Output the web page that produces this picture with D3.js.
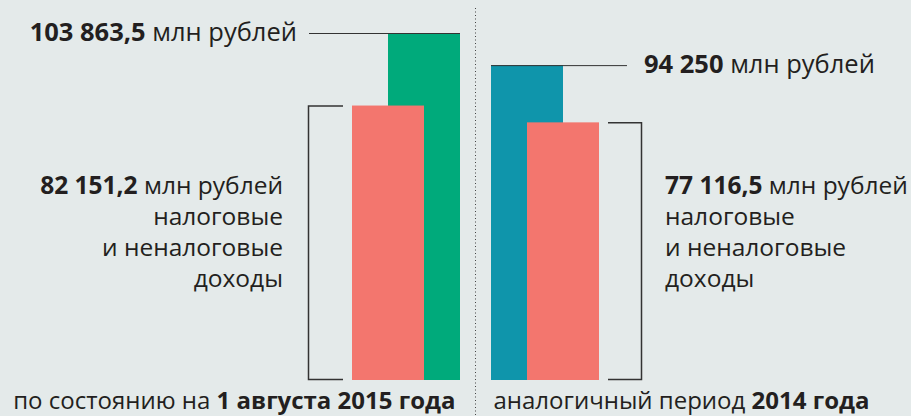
<!DOCTYPE html>
<html lang="ru">

<head>
  <meta charset="UTF-8">
  <title>Доходы</title>
  <script src="https://cdn.jsdelivr.net/npm/d3@7"></script>
  <style>
    body {
      margin: 0;
      background: #e4eaea;
    }

    text {
      font-family: "Open Sans", "Noto Sans", sans-serif;
      font-size: 24px;
      fill: #231f20;
    }

    .bold {
      font-weight: 700;
    }

    .top-label {
      font-size: 25.5px;
    }

    .tax-label {
      font-size: 24.5px;
    }
  </style>
</head>

<body>
  <div id="app"></div>

  <script>
    var periods = ["2015", "2014"];
    var totalIncome = [103863.5, 94250];
    var taxIncome = [82151.2, 77116.5];
    var totalLabels = ["103 863,5", "94 250"];
    var taxLabels = ["82 151,2", "77 116,5"];
    var unitLabel = "млн рублей";
    var taxLines = ["налоговые", "и неналоговые", "доходы"];
    var periodPrefix = ["по состоянию на ", "аналогичный период "];
    var periodBold = ["1 августа 2015 года", "2014 года"];

    var width = 911;
    var height = 416;
    var baseY = 380;

    var totalColors = ["#00aa7b", "#0f95ab"];
    var taxColor = "#f3766e";

    var svg = d3.select("#app")
      .append("svg")
      .attr("width", width)
      .attr("height", height);

    svg.append("rect")
      .attr("width", width)
      .attr("height", height)
      .attr("fill", "#e4eaea");

    // scales
    var yScale = d3.scaleLinear()
      .domain([0, d3.max(totalIncome)])
      .range([baseY, 33]);

    var xGroup = d3.scaleBand()
      .domain(periods)
      .range([352, 599])
      .paddingInner(0.223);

    var barW = xGroup.bandwidth() * 2 / 3;
    var slot = d3.scaleLinear()
      .domain([0, 1])
      .range([0, xGroup.bandwidth() - barW]);

    // left group: total behind on the right; right group: total on the left
    var totalSlot = [1, 0];
    var taxSlot = [0, 1];

    // separator
    var sepX = (xGroup(periods[0]) + xGroup.bandwidth() + xGroup(periods[1])) / 2;
    svg.append("line")
      .attr("x1", sepX)
      .attr("x2", sepX)
      .attr("y1", 8)
      .attr("y2", height)
      .attr("stroke", "#444")
      .attr("stroke-width", 1)
      .attr("stroke-dasharray", "1,2.5");

    // bars
    svg.selectAll(".total")
      .data(totalIncome)
      .enter()
      .append("rect")
      .attr("class", "total")
      .attr("x", function (d, i) { return xGroup(periods[i]) + slot(totalSlot[i]); })
      .attr("y", function (d) { return yScale(d); })
      .attr("width", barW)
      .attr("height", function (d) { return yScale(0) - yScale(d); })
      .attr("fill", function (d, i) { return totalColors[i]; });

    svg.selectAll(".tax")
      .data(taxIncome)
      .enter()
      .append("rect")
      .attr("class", "tax")
      .attr("x", function (d, i) { return xGroup(periods[i]) + slot(taxSlot[i]); })
      .attr("y", function (d) { return yScale(d); })
      .attr("width", barW)
      .attr("height", function (d) { return yScale(0) - yScale(d); })
      .attr("fill", taxColor);

    // leader lines for totals
    var leftX0 = xGroup(periods[0]) + slot(totalSlot[0]);
    var rightX0 = xGroup(periods[1]) + slot(totalSlot[1]);

    svg.append("line")
      .attr("x1", leftX0 - 79)
      .attr("x2", leftX0 + barW)
      .attr("y1", yScale(totalIncome[0]) + 0.5)
      .attr("y2", yScale(totalIncome[0]) + 0.5)
      .attr("stroke", "#333");

    svg.append("line")
      .attr("x1", rightX0)
      .attr("x2", rightX0 + 136)
      .attr("y1", yScale(totalIncome[1]) + 0.5)
      .attr("y2", yScale(totalIncome[1]) + 0.5)
      .attr("stroke", "#333");

    // total labels
    var t0 = svg.append("text")
      .attr("class", "top-label")
      .attr("x", leftX0 - 91)
      .attr("y", yScale(totalIncome[0]) + 8)
      .attr("text-anchor", "end");
    t0.append("tspan").attr("class", "bold").text(totalLabels[0]);
    t0.append("tspan").text(" " + unitLabel);

    var t1 = svg.append("text")
      .attr("class", "top-label")
      .attr("x", rightX0 + 153)
      .attr("y", yScale(totalIncome[1]) + 8);
    t1.append("tspan").attr("class", "bold").text(totalLabels[1]);
    t1.append("tspan").text(" " + unitLabel);

    // brackets for tax income
    var leftTaxX = xGroup(periods[0]) + slot(taxSlot[0]);
    var rightTaxX = xGroup(periods[1]) + slot(taxSlot[1]);
    var bl = leftTaxX - 44;
    var br = rightTaxX + barW + 43;

    svg.append("path")
      .attr("d", "M" + (bl + 35) + "," + (yScale(taxIncome[0]) + 0.5) +
        "H" + (bl + 0.5) + "V" + (yScale(0) - 0.5) + "H" + (bl + 35))
      .attr("fill", "none")
      .attr("stroke", "#333")
      .attr("stroke-width", 1.5);

    svg.append("path")
      .attr("d", "M" + (br - 34) + "," + (yScale(taxIncome[1]) + 0.5) +
        "H" + (br - 0.5) + "V" + (yScale(0) - 0.5) + "H" + (br - 34))
      .attr("fill", "none")
      .attr("stroke", "#333")
      .attr("stroke-width", 1.5);

    // tax labels
    var lineH = 31;
    [0, 1].forEach(function (i) {
      var anchor = i === 0 ? "end" : "start";
      var x = i === 0 ? bl - 25 : br + 23;
      var t = svg.append("text")
        .attr("class", "tax-label")
        .attr("x", x)
        .attr("y", 194)
        .attr("text-anchor", anchor);
      t.append("tspan").attr("class", "bold").text(taxLabels[i]);
      t.append("tspan").text(" " + unitLabel);
      taxLines.forEach(function (s, k) {
        svg.append("text")
          .attr("class", "tax-label")
          .attr("x", x)
          .attr("y", 194 + lineH * (k + 1))
          .attr("text-anchor", anchor)
          .text(s);
      });
    });

    // period captions
    [0, 1].forEach(function (i) {
      var t = svg.append("text")
        .attr("x", i === 0 ? sepX - 20 : sepX + 18)
        .attr("y", 409)
        .attr("text-anchor", i === 0 ? "end" : "start");
      t.append("tspan").text(periodPrefix[i]);
      t.append("tspan").attr("class", "bold").text(periodBold[i]);
    });
  </script>
</body>

</html>
